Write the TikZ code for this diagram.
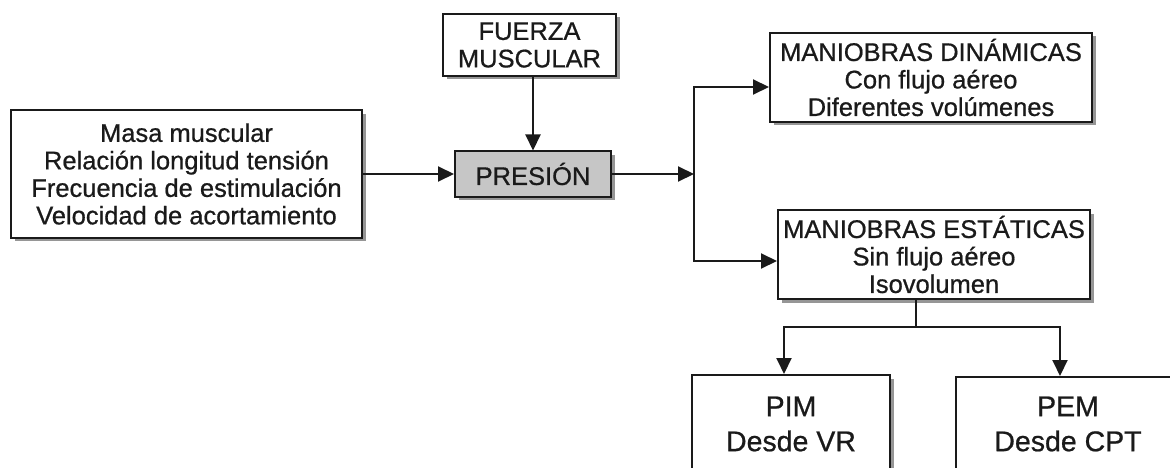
\documentclass[tikz,border=0pt]{standalone}
\usepackage{fontspec}
\setmainfont{Liberation Sans}[BoldFont=Liberation Sans, BoldFeatures={FakeBold=0.7}]
\usetikzlibrary{arrows.meta,shadows}
\definecolor{ink}{HTML}{1A1A1A}
\definecolor{boxgray}{HTML}{C6C6C6}
\begin{document}
\begin{tikzpicture}[x=1pt,y=-1pt,
  box/.style={draw=ink, line width=2pt, fill=white, text=ink, align=center,
    inner sep=0pt, font=\fontsize{25.5}{27.5}\selectfont\bfseries,
    drop shadow={shadow xshift=3.5pt, shadow yshift=-3.5pt, fill=black!55, opacity=0.75}},
  bigbox/.style={box, font=\fontsize{28.5}{35}\selectfont\bfseries},
  link/.style={draw=ink, line width=2pt},
  arr/.style={link, -{Triangle[length=16pt,width=15pt]}}]
\useasboundingbox (0,0) rectangle (1170,468);
\clip (0,0) rectangle (1170,468);

% factors feeding the pressure
\node[box, minimum width=351pt, minimum height=127pt] (factors) at (186.5,174)
  {Masa muscular\\Relación longitud tensión\\Frecuencia de estimulación\\Velocidad de acortamiento};
\node[box, minimum width=173pt, minimum height=62pt] (fuerza) at (529.5,45)
  {FUERZA\\MUSCULAR};
\node[box, fill=boxgray, minimum width=156pt, minimum height=45pt] (presion) at (533,174)
  {PRESIÓN};

% manoeuvres
\node[box, minimum width=322pt, minimum height=89pt] (dinamicas) at (931,77.5)
  {MANIOBRAS DINÁMICAS\\Con flujo aéreo\\Diferentes volúmenes};
\node[box, minimum width=312pt, minimum height=89pt] (estaticas) at (934,254.5)
  {MANIOBRAS ESTÁTICAS\\Sin flujo aéreo\\Isovolumen};

% measured pressures
\node[bigbox, minimum width=198pt, minimum height=98pt] (pim) at (791,424)
  {PIM\\Desde VR};
\node[bigbox, minimum width=224pt, minimum height=94pt] (pem) at (1068,424)
  {PEM\\Desde CPT};

% branching points
\coordinate (split) at (694,174);
\coordinate (upper) at (694,87);
\coordinate (lower) at (694,261);
\coordinate (fork) at (916,327);
\coordinate (forkL) at (784,327);
\coordinate (forkR) at (1060,327);

% connectors
\draw[arr] (factors.east) -- (presion.west);
\draw[arr] (presion.north |- fuerza.south) -- (presion.north);
\draw[arr] (presion.east) -- (split);
\draw[link, line cap=rect] (upper) -- (lower);
\draw[arr] (upper) -- (upper -| dinamicas.west);
\draw[arr] (lower) -- (lower -| estaticas.west);
\draw[link] (fork |- estaticas.south) -- (fork);
\draw[link, line cap=rect] (forkL) -- (forkR);
\draw[arr] (forkL) -- (forkL |- pim.north);
\draw[arr] (forkR) -- (forkR |- pem.north);
\end{tikzpicture}
\end{document}
